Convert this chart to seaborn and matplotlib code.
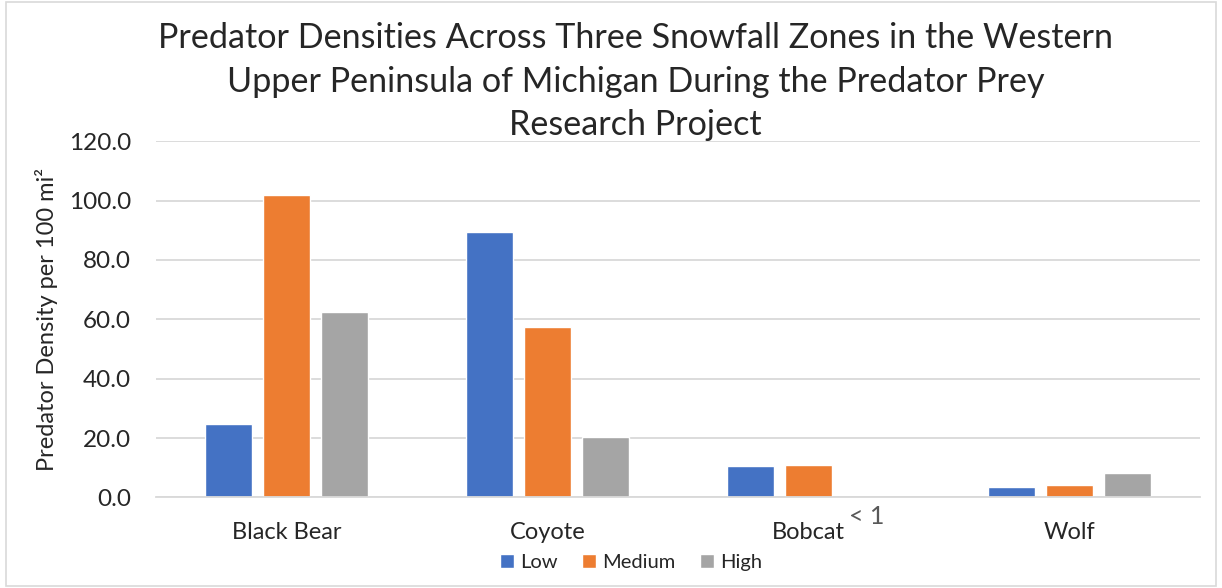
import matplotlib
matplotlib.use("Agg")
import matplotlib.pyplot as plt
import seaborn as sns
import pandas as pd
from matplotlib.patches import Rectangle

species = ["Black Bear", "Coyote", "Bobcat", "Wolf"]
zones = ["Low", "Medium", "High"]
low = [24.7, 89.3, 10.5, 3.5]
medium = [102.0, 57.3, 11.0, 4.3]
high = [62.5, 20.4, 0.0, 8.1]
colors = ["#4472C4", "#ED7D31", "#A5A5A5"]
yticks = [0, 20, 40, 60, 80, 100, 120]

rows = []
for i, s in enumerate(species):
    for z, vals in zip(zones, [low, medium, high]):
        rows.append({"Species": s, "Zone": z, "Density": vals[i]})
df = pd.DataFrame(rows)

sns.set_theme(style="white")
plt.rcParams["font.family"] = ["Lato", "DejaVu Sans"]

fig = plt.figure(figsize=(12.22, 5.88), dpi=100)
ax = fig.add_axes([0.1277, 0.154, 0.8543, 0.606])

sns.barplot(data=df, x="Species", y="Density", hue="Zone", order=species,
            hue_order=zones, palette=colors, width=0.667, gap=0.2,
            saturation=1, ax=ax, errorbar=None, legend=True)

ax.set_ylim(0, 120)
ax.set_yticks(yticks)
ax.set_yticklabels([f"{v:.1f}" for v in yticks])
ax.set_xlim(-0.5, len(species) - 0.5)
ax.grid(axis="y", color="#D9D9D9", linewidth=1.3)
ax.set_axisbelow(True)
for side in ["top", "right", "left"]:
    ax.spines[side].set_visible(False)
ax.spines["bottom"].set_color("#D9D9D9")
ax.spines["bottom"].set_linewidth(1.3)
ax.tick_params(axis="y", length=0, pad=18, labelsize=17.5, labelcolor="#262626")
ax.tick_params(axis="x", length=0, pad=18, labelsize=17, labelcolor="#262626")
ax.set_xlabel("")
ax.set_ylabel("Predator Density per 100 mi²", fontsize=17, color="#262626", labelpad=8)

# "< 1" note at the zero-height bar
for p in ax.patches:
    if p.get_height() == 0 and p.get_width() > 0:
        ax.text(p.get_x() + p.get_width() / 2, -2.5, "< 1", ha="center", va="top",
                fontsize=18, color="#595959")
        break

ax.legend(handles=ax.get_legend().legend_handles, labels=zones,
          loc="upper center", bbox_to_anchor=(0.455, -0.135), ncol=3, frameon=False,
          fontsize=14.5, handlelength=0.7, handleheight=0.7, handletextpad=0.3,
          columnspacing=1.2, borderaxespad=0)

fig.text(0.52, 0.861, "Predator Densities Across Three Snowfall Zones in the Western\n"
         "Upper Peninsula of Michigan During the Predator Prey\nResearch Project",
         ha="center", va="center", fontsize=24.6, color="#262626", linespacing=1.45)

fig.patches.append(Rectangle((0.005, 0.003), 0.99, 0.994, transform=fig.transFigure,
                             fill=False, edgecolor="#D9D9D9", linewidth=1.2))

fig.savefig("out.png", dpi=100)
